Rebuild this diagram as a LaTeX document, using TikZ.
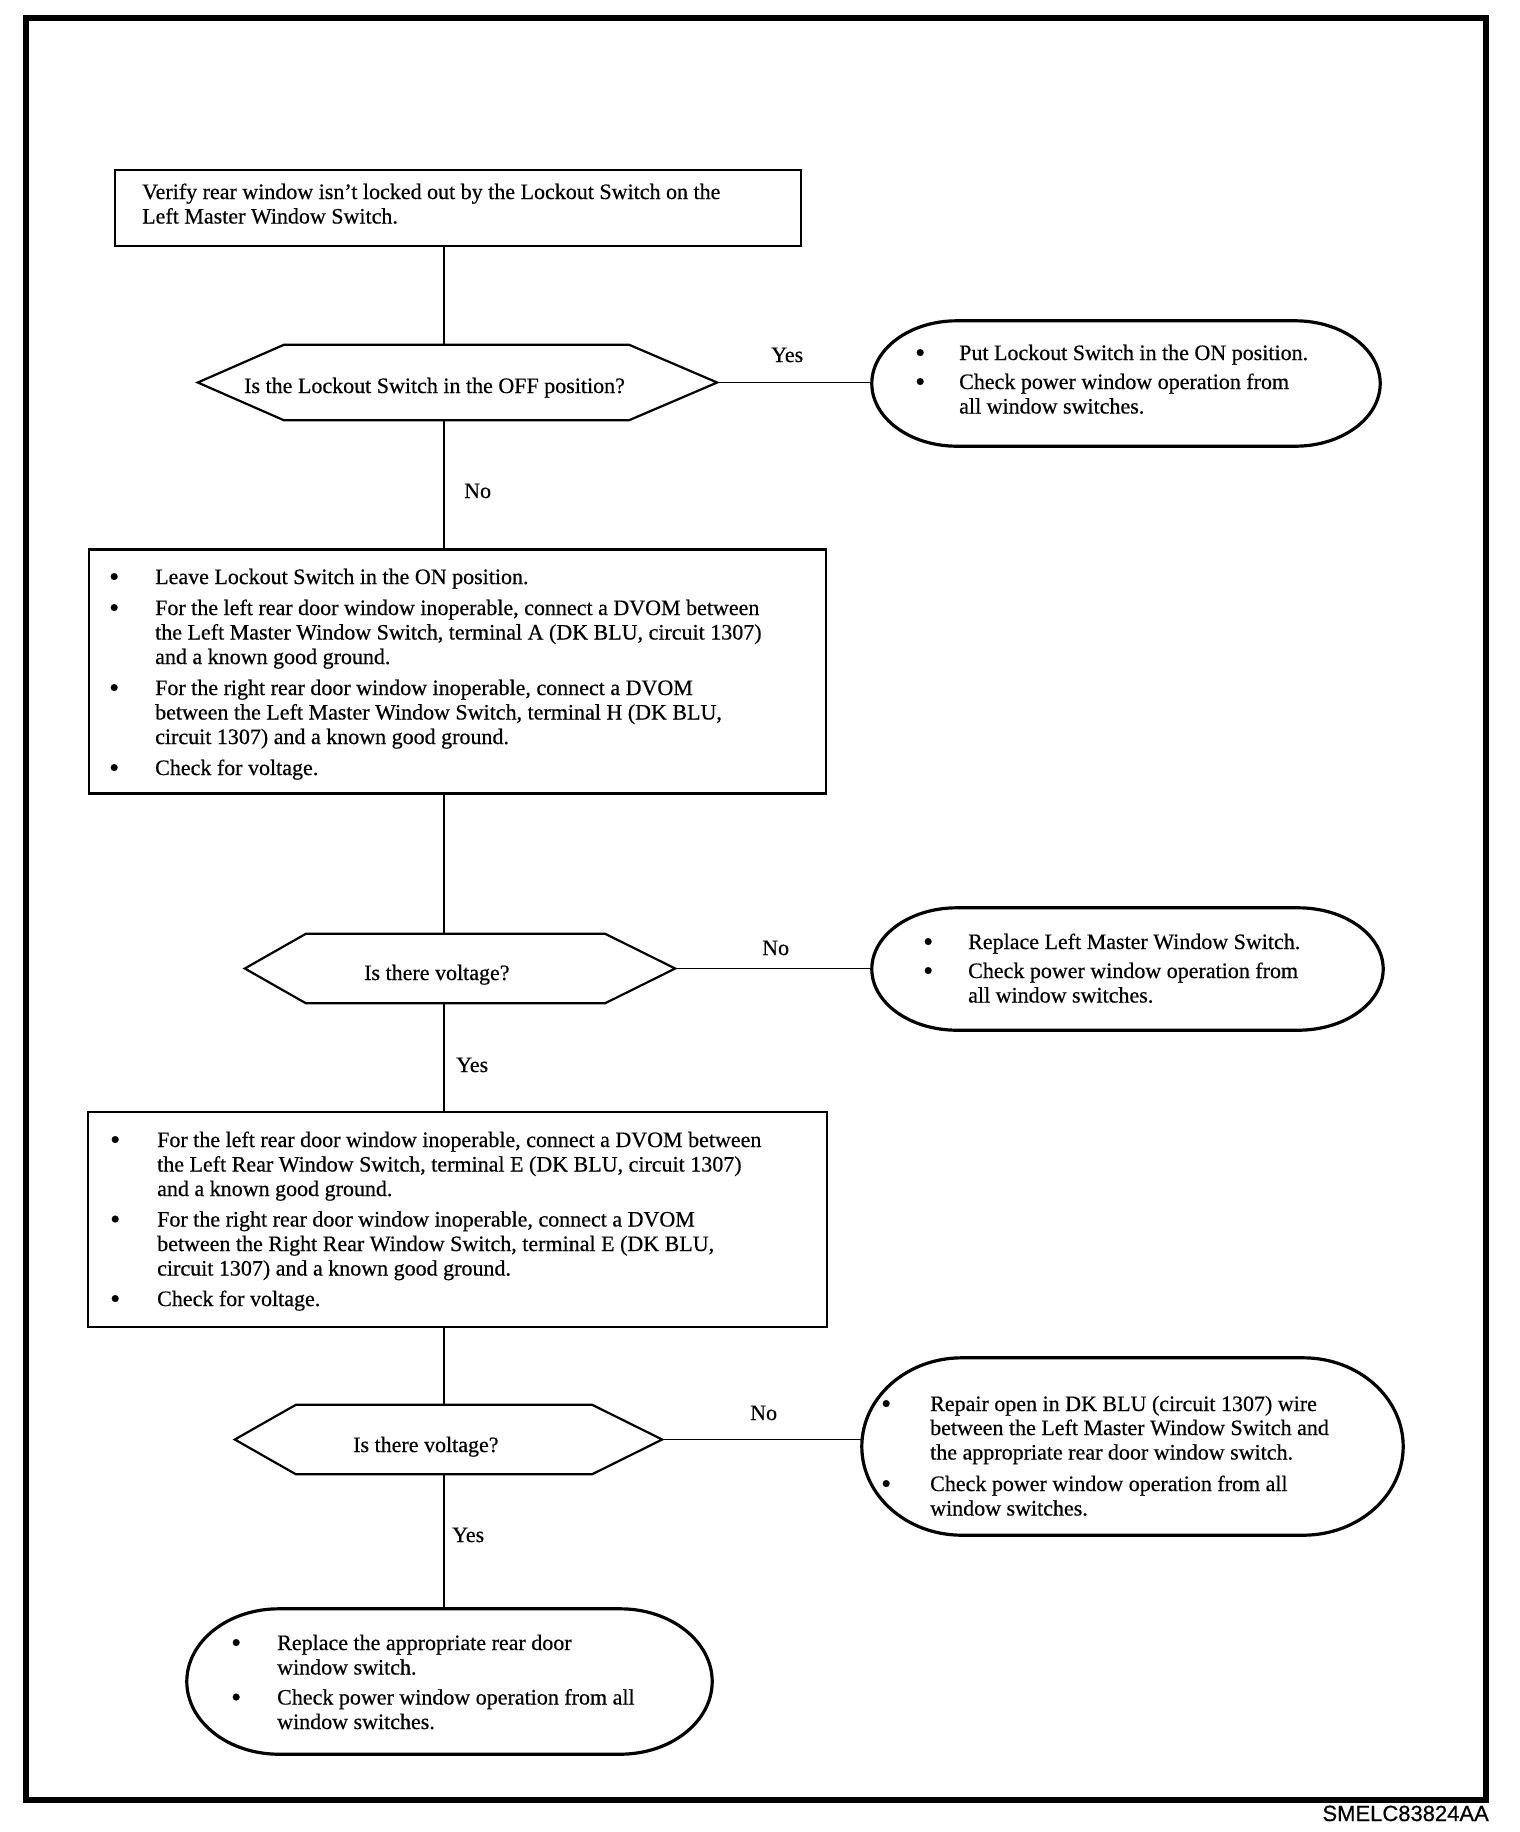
\documentclass[tikz,border=0pt]{standalone}
\usepackage{fontspec}
\setmainfont{Liberation Serif}[FakeBold=0.5]
\newfontfamily\labelfont{Liberation Sans}[FakeBold=0.6]
\usetikzlibrary{calc}
\newcommand\bl{\raisebox{-2pt}{\scalebox{1.3}{\textbullet}}}
% elliptic-ended terminal outline: node name, x radius, y radius (= half height)
\newcommand\termdraw[3]{%
\draw[termline] ($(#1.north west)+(#2,0)$) -- ($(#1.north east)+(-#2,0)$)
 .. controls ($(#1.north east)+(-#2+0.5523*#2,0)$) and ($(#1.east)+(0,-0.5523*#3)$) .. (#1.east)
 .. controls ($(#1.east)+(0,0.5523*#3)$) and ($(#1.south east)+(-#2+0.5523*#2,0)$) .. ($(#1.south east)+(-#2,0)$)
 -- ($(#1.south west)+(#2,0)$)
 .. controls ($(#1.south west)+(#2-0.5523*#2,0)$) and ($(#1.west)+(0,0.5523*#3)$) .. (#1.west)
 .. controls ($(#1.west)+(0,-0.5523*#3)$) and ($(#1.north west)+(#2-0.5523*#2,0)$) .. ($(#1.north west)+(#2,0)$)
 -- cycle;}
\tikzset{
  boxline/.style={draw=black, line width=2.2pt},
  procbox/.style={boxline, rectangle, inner sep=0pt},
  hexnode/.style={rectangle, inner sep=0pt},
  termnode/.style={rectangle, inner sep=0pt},
  termline/.style={draw=black, line width=3.2pt, line join=round},
  conn/.style={draw=black, line width=1.6pt},
  txt/.style={inner sep=0pt, anchor=base west, font=\fontsize{22}{24.5}\selectfont},
  lbl/.style={inner sep=0pt, anchor=base west, font=\fontsize{22}{24.5}\selectfont},
}
\begin{document}
\begin{tikzpicture}[x=1pt,y=-1pt]
\useasboundingbox (0,0) rectangle (1520,1832);
\fill[white] (0,0) rectangle (1520,1832);
% frame
\draw[line width=5.5pt] (26,18) rectangle (1486,1800);
\node[inner sep=0pt, anchor=base east, font=\labelfont\fontsize{22}{24}\selectfont] (figid) at (1489,1821) {SMELC83824AA};
\coordinate (tr) at (444,0);

% ---- box 1
\node[procbox, minimum width=686, minimum height=76] (b1) at (458,208) {};
\node[txt] (b1t) at (142,199) {\begin{tabular}[t]{@{}l@{}}
Verify rear window isn't locked out by the Lockout Switch on the\\
Left Master Window Switch.
\end{tabular}};

% ---- decision 1
\node[hexnode, minimum width=519, minimum height=75] (d1) at (457.5,382.5) {};
\draw[boxline] (d1.west) -- ([xshift=86pt]d1.north west) -- ([xshift=-88pt]d1.north east) -- (d1.east)
  -- ([xshift=-88pt]d1.south east) -- ([xshift=86pt]d1.south west) -- cycle;
\node[lbl] (d1t) at (244,393) {Is the Lockout Switch in the OFF position?};

% ---- terminal 1
\node[termnode, minimum width=508, minimum height=125] (e1) at (1126,383.5) {};
\termdraw{e1}{85}{62.5}
\node[txt] (e1t) at (915,360) {\begin{tabular}[t]{@{}p{44pt}@{}l@{}}
\bl & Put Lockout Switch in the ON position.\\[4.5pt]
\bl & Check power window operation from\\
    & all window switches.
\end{tabular}};

% ---- box 2
\node[procbox, minimum width=737, minimum height=244] (b2) at (457.5,671.5) {};
\node[txt] (b2t) at (109,584) {\begin{tabular}[t]{@{}p{46pt}@{}l@{}}
\bl & Leave Lockout Switch in the ON position.\\[6.5pt]
\bl & For the left rear door window inoperable, connect a DVOM between\\
    & the Left Master Window Switch, terminal A (DK BLU, circuit 1307)\\
    & and a known good ground.\\[6.5pt]
\bl & For the right rear door window inoperable, connect a DVOM\\
    & between the Left Master Window Switch, terminal H (DK BLU,\\
    & circuit 1307) and a known good ground.\\[6.5pt]
\bl & Check for voltage.
\end{tabular}};

% ---- decision 2
\node[hexnode, minimum width=430, minimum height=69] (d2) at (460,968.5) {};
\draw[boxline] (d2.west) -- ([xshift=61pt]d2.north west) -- ([xshift=-70pt]d2.north east) -- (d2.east)
  -- ([xshift=-70pt]d2.south east) -- ([xshift=61pt]d2.south west) -- cycle;
\node[lbl] (d2t) at (364,980) {Is there voltage?};

% ---- terminal 2
\node[termnode, minimum width=511, minimum height=122] (e2) at (1127.5,969) {};
\termdraw{e2}{85}{61}
\node[txt] (e2t) at (923,949) {\begin{tabular}[t]{@{}p{45pt}@{}l@{}}
\bl & Replace Left Master Window Switch.\\[4.5pt]
\bl & Check power window operation from\\
    & all window switches.
\end{tabular}};

% ---- box 3
\node[procbox, minimum width=739, minimum height=215] (b3) at (457.5,1219.5) {};
\node[txt] (b3t) at (110,1147) {\begin{tabular}[t]{@{}p{47pt}@{}l@{}}
\bl & For the left rear door window inoperable, connect a DVOM between\\
    & the Left Rear Window Switch, terminal E (DK BLU, circuit 1307)\\
    & and a known good ground.\\[6pt]
\bl & For the right rear door window inoperable, connect a DVOM\\
    & between the Right Rear Window Switch, terminal E (DK BLU,\\
    & circuit 1307) and a known good ground.\\[6pt]
\bl & Check for voltage.
\end{tabular}};

% ---- decision 3
\node[hexnode, minimum width=427, minimum height=69] (d3) at (448.5,1439.5) {};
\draw[boxline] (d3.west) -- ([xshift=61pt]d3.north west) -- ([xshift=-70pt]d3.north east) -- (d3.east)
  -- ([xshift=-70pt]d3.south east) -- ([xshift=61pt]d3.south west) -- cycle;
\node[lbl] (d3t) at (353,1452) {Is there voltage?};

% ---- terminal 3
\node[termnode, minimum width=541, minimum height=177] (e3) at (1132.5,1446.5) {};
\termdraw{e3}{100}{88.5}
\node[txt] (e3t) at (881,1411) {\begin{tabular}[t]{@{}p{49pt}@{}l@{}}
\bl & Repair open in DK BLU (circuit 1307) wire\\[-0.5pt]
    & between the Left Master Window Switch and\\
    & the appropriate rear door window switch.\\[7pt]
\bl & Check power window operation from all\\
    & window switches.
\end{tabular}};

% ---- terminal 4
\node[termnode, minimum width=525, minimum height=145] (e4) at (449.5,1681.5) {};
\termdraw{e4}{92}{72.5}
\node[txt] (e4t) at (231,1650) {\begin{tabular}[t]{@{}p{46pt}@{}l@{}}
\bl & Replace the appropriate rear door\\
    & window switch.\\[5.5pt]
\bl & Check power window operation from all\\
    & window switches.
\end{tabular}};

% ---- connectors
\draw[conn] (b1.south -| tr) -- (d1.north -| tr);
\draw[conn] (d1.south -| tr) -- (b2.north -| tr);
\draw[conn] (b2.south -| tr) -- (d2.north -| tr);
\draw[conn] (d2.south -| tr) -- (b3.north -| tr);
\draw[conn] (b3.south -| tr) -- (d3.north -| tr);
\draw[conn] (d3.south -| tr) -- (e4.north -| tr);
\draw[conn] (d1.east) -- (d1.east -| e1.west);
\draw[conn] (d2.east) -- (d2.east -| e2.west);
\draw[conn] (d3.east) -- (d3.east -| e3.west);

% ---- connector labels
\node[lbl] (l1) at (771,362) {Yes};
\node[lbl] (l2) at (464,498) {No};
\node[lbl] (l3) at (762,955) {No};
\node[lbl] (l4) at (456,1072) {Yes};
\node[lbl] (l5) at (750,1420) {No};
\node[lbl] (l6) at (452,1542) {Yes};
\end{tikzpicture}
\end{document}
